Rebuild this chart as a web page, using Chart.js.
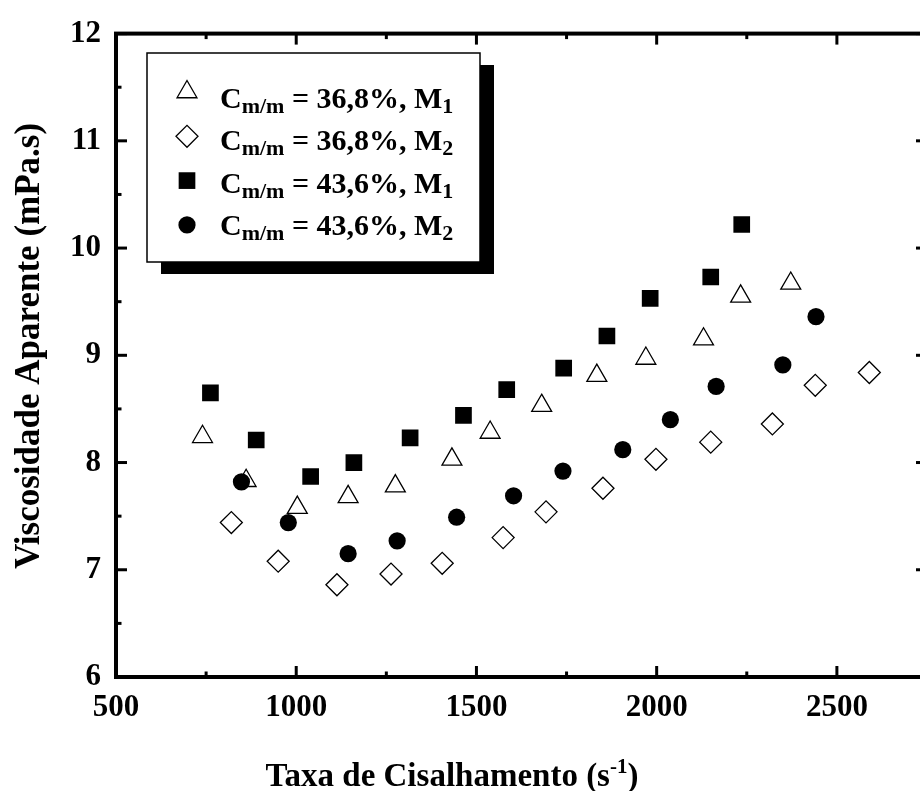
<!DOCTYPE html>
<html>
<head>
<meta charset="utf-8">
<script src="https://cdn.jsdelivr.net/npm/chart.js@4.4.1/dist/chart.umd.min.js"></script>
<style>
  html, body { margin: 0; padding: 0; overflow: hidden; background: #fff; }
  #caixa { width: 940px; height: 791px; }
</style>
</head>
<body>
<div id="caixa"><canvas id="graficoViscosidade" width="940" height="791"></canvas></div>
<script>
// C = 36,8%, M1 (triangulos abertos)
const taxa368M1 = [740, 861, 1003, 1144, 1275, 1432, 1538, 1681, 1834, 1970, 2130, 2233, 2372];
const visc368M1 = [8.24, 7.83, 7.58, 7.68, 7.78, 8.03, 8.28, 8.53, 8.81, 8.97, 9.15, 9.55, 9.67];
// C = 36,8%, M2 (losangos abertos)
const taxa368M2 = [820, 950, 1113, 1263, 1405, 1574, 1693, 1851, 1998, 2150, 2321, 2440, 2590];
const visc368M2 = [7.44, 7.08, 6.86, 6.96, 7.06, 7.30, 7.54, 7.76, 8.03, 8.19, 8.36, 8.72, 8.84];
// C = 43,6%, M1 (quadrados cheios)
const taxa436M1 = [762, 889, 1040, 1160, 1316, 1464, 1584, 1742, 1862, 1982, 2150, 2236];
const visc436M1 = [8.65, 8.21, 7.87, 8.00, 8.23, 8.44, 8.68, 8.88, 9.18, 9.53, 9.73, 10.22];
// C = 43,6%, M2 (circulos cheios)
const taxa436M2 = [848, 978, 1144, 1280, 1445, 1603, 1740, 1906, 2038, 2165, 2350, 2442];
const visc436M2 = [7.82, 7.44, 7.15, 7.27, 7.49, 7.69, 7.92, 8.12, 8.40, 8.71, 8.91, 9.36];

const ticksX = [500, 1000, 1500, 2000, 2500];
const ticksXMenores = [750, 1250, 1750, 2250];
const ticksY = [6, 7, 8, 9, 10, 11, 12];
const ticksYMenores = [6.5, 7.5, 8.5, 9.5, 10.5, 11.5];

const legendas = [
    { conc: '36,8%', mod: '1' },
    { conc: '36,8%', mod: '2' },
    { conc: '43,6%', mod: '1' },
    { conc: '43,6%', mod: '2' }
];

const fonte = '"Liberation Serif", "Times New Roman", serif';

function pontos(xs, ys) {
    return xs.map((x, i) => ({ x: x, y: ys[i] }));
}

const estilos = [
    { pointStyle: 'triangle', radius: 11.5, fill: 'rgba(255,255,255,0)', borderWidth: 1.3 },
    { pointStyle: 'rectRot', radius: 11, fill: 'rgba(255,255,255,0)', borderWidth: 1.3 },
    { pointStyle: 'rect', radius: 11.8, fill: '#000', borderWidth: 0 },
    { pointStyle: 'circle', radius: 8.6, fill: '#000', borderWidth: 0 }
];

const series = [
    pontos(taxa368M1, visc368M1),
    pontos(taxa368M2, visc368M2),
    pontos(taxa436M1, visc436M1),
    pontos(taxa436M2, visc436M2)
];

const molduraPlugin = {
    id: 'moldura',
    afterDraw(chart) {
        const ctx = chart.ctx;
        const a = chart.chartArea;
        const sx = chart.scales.x;
        const sy = chart.scales.y;
        ctx.save();
        ctx.strokeStyle = '#000';
        ctx.fillStyle = '#000';

        // ticks para dentro
        ctx.lineWidth = 3;
        const linha = (x1, y1, x2, y2) => {
            ctx.beginPath();
            ctx.moveTo(x1, y1);
            ctx.lineTo(x2, y2);
            ctx.stroke();
        };
        ticksX.concat(ticksXMenores).forEach(v => {
            const p = sx.getPixelForValue(v);
            const len = ticksX.includes(v) ? 11 : 5.5;
            linha(p, a.bottom, p, a.bottom - len);
            linha(p, a.top, p, a.top + len);
        });
        ticksY.concat(ticksYMenores).forEach(v => {
            const p = sy.getPixelForValue(v);
            const len = ticksY.includes(v) ? 11 : 5.5;
            linha(a.left, p, a.left + len, p);
            linha(a.right, p, a.right - len, p);
        });

        // moldura
        ctx.lineWidth = 4;
        ctx.strokeRect(a.left, a.top, a.right - a.left, a.bottom - a.top);

        // titulo eixo x
        ctx.textBaseline = 'alphabetic';
        const t1 = 'Taxa de Cisalhamento (s';
        const t2 = '-1';
        const t3 = ')';
        ctx.font = 'bold 21px ' + fonte;
        const w2 = ctx.measureText(t2).width;
        ctx.font = 'bold 33px ' + fonte;
        const w1 = ctx.measureText(t1).width;
        const w3 = ctx.measureText(t3).width;
        const x0 = 452 - (w1 + w2 + w3) / 2;
        const by = 786;
        ctx.textAlign = 'left';
        ctx.fillText(t1, x0, by);
        ctx.font = 'bold 21px ' + fonte;
        ctx.fillText(t2, x0 + w1, by - 13);
        ctx.font = 'bold 33px ' + fonte;
        ctx.fillText(t3, x0 + w1 + w2, by);

        // titulo eixo y
        ctx.save();
        ctx.translate(39, 346);
        ctx.rotate(-Math.PI / 2);
        ctx.textAlign = 'center';
        ctx.font = 'bold 35px ' + fonte;
        ctx.fillText('Viscosidade Aparente (mPa.s)', 0, 0);
        ctx.restore();

        // legenda com sombra
        const lx = 147, ly = 53, lw = 333, lh = 209;
        ctx.fillRect(lx + 14, ly + 12, lw, lh);
        ctx.fillStyle = '#fff';
        ctx.fillRect(lx, ly, lw, lh);
        ctx.lineWidth = 1.5;
        ctx.strokeRect(lx, ly, lw, lh);

        legendas.forEach((item, i) => {
            const est = estilos[i];
            const sy0 = 92 + i * 44.3;
            ctx.fillStyle = est.fill === '#000' ? '#000' : '#fff';
            ctx.strokeStyle = '#000';
            ctx.lineWidth = est.borderWidth || 0.01;
            Chart.helpers.drawPoint(ctx, {
                pointStyle: est.pointStyle,
                radius: est.radius,
                rotation: 0,
                borderWidth: est.borderWidth
            }, 187, sy0);

            const base = 108 + i * 42.4;
            let tx = 220;
            ctx.fillStyle = '#000';
            ctx.textAlign = 'left';
            ctx.font = 'bold 30px ' + fonte;
            ctx.fillText('C', tx, base);
            tx += ctx.measureText('C').width;
            ctx.font = 'bold 22px ' + fonte;
            ctx.fillText('m/m', tx, base + 5);
            tx += ctx.measureText('m/m').width;
            ctx.font = 'bold 30px ' + fonte;
            const meio = ' = ' + item.conc + ', M';
            ctx.fillText(meio, tx, base);
            tx += ctx.measureText(meio).width;
            ctx.font = 'bold 22px ' + fonte;
            ctx.fillText(item.mod, tx, base + 5);
        });
        ctx.restore();
    }
};

const ctx = document.getElementById('graficoViscosidade').getContext('2d');
const grafico = new Chart(ctx, {
    type: 'scatter',
    data: {
        datasets: series.map((dados, i) => ({
            label: 'serie' + i,
            data: dados,
            pointStyle: estilos[i].pointStyle,
            pointRadius: estilos[i].radius,
            pointHoverRadius: estilos[i].radius,
            backgroundColor: estilos[i].fill,
            borderColor: '#000',
            borderWidth: estilos[i].borderWidth,
            showLine: false
        }))
    },
    options: {
        responsive: false,
        animation: false,
        events: [],
        layout: { padding: { top: 21, right: 13, bottom: 0, left: 0 } },
        plugins: {
            legend: { display: false },
            tooltip: { enabled: false }
        },
        scales: {
            x: {
                type: 'linear',
                min: 500,
                max: 2750,
                grid: { display: false, drawTicks: false },
                border: { display: false },
                afterBuildTicks: s => { s.ticks = ticksX.map(v => ({ value: v })); },
                afterFit: s => { s.height = 114; },
                ticks: {
                    autoSkip: false,
                    maxRotation: 0,
                    padding: 12,
                    color: '#000',
                    callback: v => String(v),
                    font: { family: fonte, size: 31, weight: 'bold' }
                }
            },
            y: {
                type: 'linear',
                min: 6,
                max: 12,
                grid: { display: false, drawTicks: false },
                border: { display: false },
                afterBuildTicks: s => { s.ticks = ticksY.map(v => ({ value: v })); },
                afterFit: s => { s.width = 116; },
                ticks: {
                    autoSkip: false,
                    padding: 15,
                    color: '#000',
                    callback: v => String(v),
                    font: { family: fonte, size: 31, weight: 'bold' }
                }
            }
        }
    },
    plugins: [molduraPlugin]
});
</script>
</body>
</html>
